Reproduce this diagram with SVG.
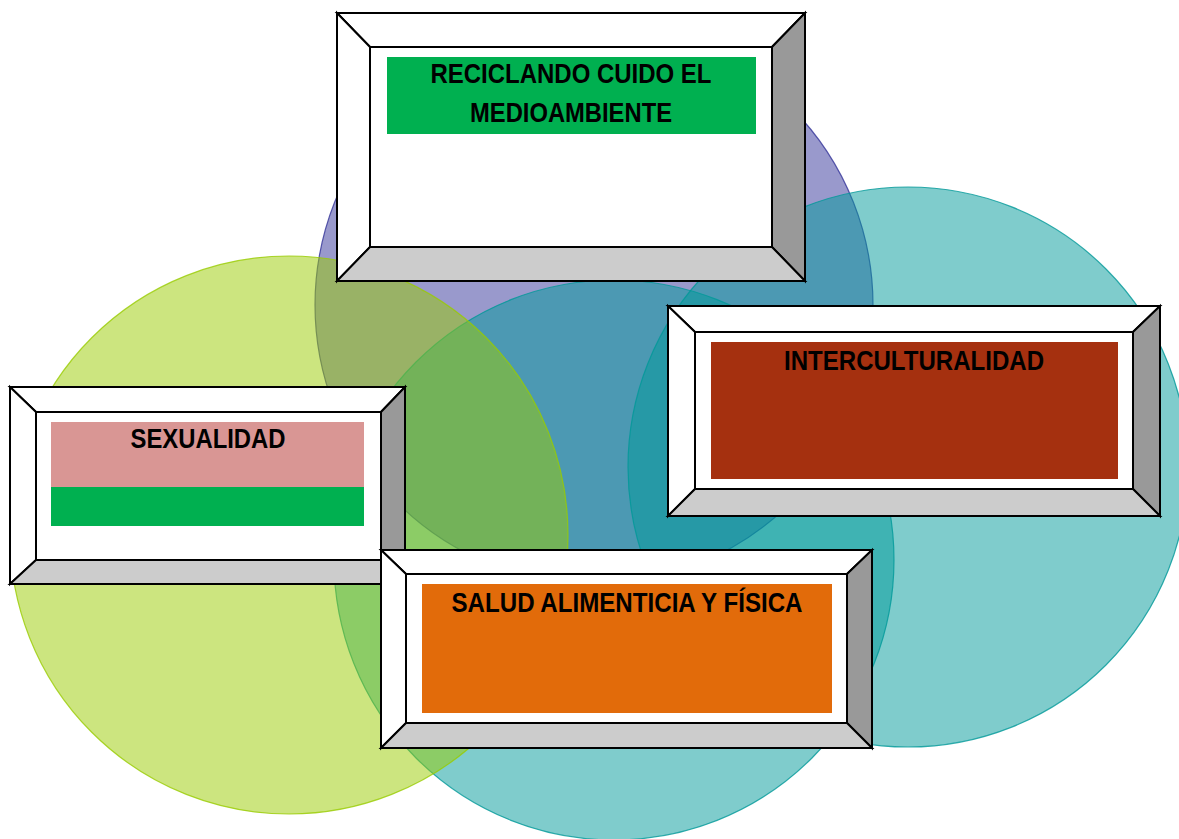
<svg xmlns="http://www.w3.org/2000/svg" width="1179" height="839" viewBox="0 0 1179 839">
<style>
.c{fill-opacity:0.5;stroke-width:1.2;stroke-opacity:0.8}
.t{fill:#fff;stroke:#000;stroke-width:2;stroke-linejoin:miter}
.r{fill:#999;stroke:#000;stroke-width:2}
.b{fill:#ccc;stroke:#000;stroke-width:2}
.in{fill:#fff;stroke:#000;stroke-width:2}
.lbl{font-family:"Liberation Sans",Arial,sans-serif;font-weight:bold;font-size:28px;fill:#000;text-anchor:middle}
</style>
<rect width="1179" height="839" fill="#fff"/>
<g id="circles">
<circle class="c" cx="594" cy="305" r="279" fill="#333399" stroke="#333399"/>
<circle class="c" cx="614" cy="560" r="280" fill="#009999" stroke="#009999"/>
<circle class="c" cx="289" cy="535" r="279" fill="#99cc00" stroke="#99cc00"/>
<circle class="c" cx="908" cy="467" r="280" fill="#009999" stroke="#009999"/>
</g>
<g id="connectors"></g>
<g id="box-reciclando">
<path class="t" d="M337,13 L805,13 L772,47 L370,47 Z"/>
<path class="t" d="M337,13 L370,47 L370,247 L337,281 Z"/>
<path class="r" d="M805,13 L805,281 L772,247 L772,47 Z"/>
<path class="b" d="M337,281 L370,247 L772,247 L805,281 Z"/>
<rect class="in" x="370" y="47" width="402" height="200"/>
<rect x="387" y="57" width="369" height="77" fill="#00b050"/>
<text class="lbl" x="571" y="83" textLength="281" lengthAdjust="spacingAndGlyphs">RECICLANDO CUIDO EL</text>
<text class="lbl" x="571" y="122" textLength="202" lengthAdjust="spacingAndGlyphs">MEDIOAMBIENTE</text>
</g>
<g id="box-intercultural">
<path class="t" d="M668,306 L1160,306 L1133,332 L695,332 Z"/>
<path class="t" d="M668,306 L695,332 L695,489 L668,516 Z"/>
<path class="r" d="M1160,306 L1160,516 L1133,489 L1133,332 Z"/>
<path class="b" d="M668,516 L695,489 L1133,489 L1160,516 Z"/>
<rect class="in" x="695" y="332" width="438" height="157"/>
<rect x="711" y="342" width="407" height="137" fill="#a5300f"/>
<text class="lbl" x="914" y="370" textLength="260" lengthAdjust="spacingAndGlyphs">INTERCULTURALIDAD</text>
</g>
<g id="box-sexualidad">
<path class="t" d="M10,387 L405,387 L381,412 L36,412 Z"/>
<path class="t" d="M10,387 L36,412 L36,560 L10,584 Z"/>
<path class="r" d="M405,387 L405,584 L381,560 L381,412 Z"/>
<path class="b" d="M10,584 L36,560 L381,560 L405,584 Z"/>
<rect class="in" x="36" y="412" width="345" height="148"/>
<rect x="51" y="422" width="313" height="65" fill="#d99694"/>
<rect x="51" y="487" width="313" height="39" fill="#00b050"/>
<text class="lbl" x="208" y="448" textLength="155" lengthAdjust="spacingAndGlyphs">SEXUALIDAD</text>
</g>
<g id="box-salud">
<path class="t" d="M381,550 L872,550 L847,574 L406,574 Z"/>
<path class="t" d="M381,550 L406,574 L406,723 L381,748 Z"/>
<path class="r" d="M872,550 L872,748 L847,723 L847,574 Z"/>
<path class="b" d="M381,748 L406,723 L847,723 L872,748 Z"/>
<rect class="in" x="406" y="574" width="441" height="149"/>
<rect x="422" y="584" width="410" height="129" fill="#e26b0a"/>
<text class="lbl" x="627" y="612" textLength="351" lengthAdjust="spacingAndGlyphs">SALUD ALIMENTICIA Y FÍSICA</text>
</g>
</svg>
